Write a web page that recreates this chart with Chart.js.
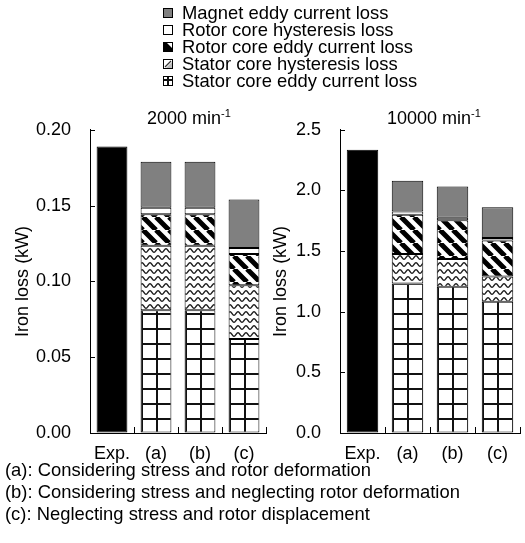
<!DOCTYPE html>
<html>
<head>
<meta charset="utf-8">
<script src="https://cdn.jsdelivr.net/npm/chart.js@4.4.1/dist/chart.umd.min.js"></script>
<style>
  body { margin: 0; background: #fff; font-family: "Liberation Sans", Arial, sans-serif; }
  #wrap { position: relative; width: 525px; height: 543px; overflow: hidden; }
  canvas.chart { position: absolute; top: 100px; }
  #legend { position: absolute; left: 163px; top: 4px; font-size: 18.4px; line-height: 17px; color: #000; }
  #legend div { display: flex; align-items: center; white-space: nowrap; }
  #legend canvas { margin-right: 9px; }
  .ttl { position: absolute; top: 108px; font-size: 18px; white-space: nowrap; }
  .ttl sup { font-size: 11px; vertical-align: 7px; line-height: 0; }
  #notes { position: absolute; left: 5px; top: 459px; font-size: 18.4px; line-height: 22px; white-space: nowrap; }
</style>
</head>
<body>
<div id="wrap">
  <div id="legend"></div>
  <canvas id="c2000" class="chart" width="268" height="370" style="left:0px"></canvas>
  <canvas id="c10000" class="chart" width="267" height="370" style="left:258px"></canvas>
  <div class="ttl" style="left:147px">2000 min<sup>-1</sup></div>
  <div class="ttl" style="left:387px">10000 min<sup>-1</sup></div>
  <div id="notes">
    <div>(a): Considering stress and rotor deformation</div>
    <div>(b): Considering stress and neglecting rotor deformation</div>
    <div>(c): Neglecting stress and rotor displacement</div>
  </div>
</div>
<script>
// categories
const categories = ['Exp.', '(a)', '(b)', '(c)'];
const lossNames = [
  'Magnet eddy current loss',
  'Rotor core hysteresis loss',
  'Rotor core eddy current loss',
  'Stator core hysteresis loss',
  'Stator core eddy current loss'
];

// 2000 min-1 (kW)
const exp2000 = [0.189, null, null, null];
const statorEddy2000 = [null, 0.081, 0.081, 0.062];
const statorHyst2000 = [null, 0.0425, 0.0425, 0.0355];
const rotorEddy2000 = [null, 0.0208, 0.0208, 0.0205];
const rotorHyst2000 = [null, 0.0042, 0.0042, 0.004];
const magnet2000 = [null, 0.0305, 0.0305, 0.032];

// 10000 min-1 (kW)
const exp10000 = [2.335, null, null, null];
const statorEddy10000 = [null, 1.232, 1.205, 1.083];
const statorHyst10000 = [null, 0.243, 0.23, 0.207];
const rotorEddy10000 = [null, 0.325, 0.319, 0.297];
const rotorHyst10000 = [null, 0.026, 0.021, 0.021];
const magnet10000 = [null, 0.254, 0.258, 0.253];

const barPct = 0.7;

// hatch patterns
function tile(w, h, draw) {
  const c = document.createElement('canvas');
  c.width = w; c.height = h;
  const g = c.getContext('2d');
  g.fillStyle = '#fff';
  g.fillRect(0, 0, w, h);
  draw(g, w, h);
  return c;
}
const gridTile = tile(15, 15, (g, w, h) => {
  g.fillStyle = '#111';
  g.fillRect(0, 0, 2, h);
  g.fillRect(0, 0, w, 2);
});
const waveTile = tile(8, 7, (g, w, h) => {
  g.strokeStyle = '#222';
  g.lineWidth = 1.4;
  g.beginPath();
  for (let x = -1; x <= w + 1; x += 0.5) {
    const y = 3.5 + 1.8 * Math.sin(2 * Math.PI * x / w);
    if (x === -1) g.moveTo(x, y); else g.lineTo(x, y);
  }
  g.stroke();
});
const stripeTile = tile(13, 13, (g, w, h) => {
  g.strokeStyle = '#000';
  g.lineWidth = 5;
  g.beginPath();
  [-w, 0, w].forEach(x0 => { g.moveTo(x0, 0); g.lineTo(x0 + w, h); });
  g.stroke();
});

// grid hatch lined up with each bar's left edge
function gridFill(context) {
  const chart = context.chart;
  const xs = chart.scales.x, ys = chart.scales.y;
  const p = chart.ctx.createPattern(gridTile, 'repeat');
  if (context.dataIndex === undefined || !xs || !xs.width) return p;
  const w = xs.width / categories.length * barPct;
  const left = xs.getPixelForValue(context.dataIndex) - w / 2;
  p.setTransform(new DOMMatrix().translate(Math.round(left), Math.round(ys.bottom)));
  return p;
}

// inward tick marks on both axes
const inwardTicks = {
  id: 'inwardTicks',
  afterDraw(chart) {
    const ctx = chart.ctx, xs = chart.scales.x, ys = chart.scales.y;
    ctx.save();
    ctx.strokeStyle = '#000';
    ctx.lineWidth = 1;
    ctx.beginPath();
    ys.ticks.forEach((t, i) => {
      const py = Math.round(ys.getPixelForTick(i)) + 0.5;
      ctx.moveTo(xs.left, py);
      ctx.lineTo(xs.left + 5, py);
    });
    const half = (xs.getPixelForTick(1) - xs.getPixelForTick(0)) / 2;
    for (let i = 0; i < categories.length; i++) {
      const px = Math.round(xs.getPixelForTick(i) + half) + 0.5;
      ctx.moveTo(px, ys.bottom);
      ctx.lineTo(px, ys.bottom - 6);
    }
    ctx.stroke();
    ctx.restore();
  }
};

const font = { family: '"Liberation Sans", Arial, sans-serif', size: 18 };

function makeChart(id, series, max, step, decimals, yWidth, padRight) {
  const ctx = document.getElementById(id).getContext('2d');
  const ds = (label, data, bg) => ({
    label, data, backgroundColor: bg, borderColor: '#000', borderWidth: 1,
    borderSkipped: false, barPercentage: barPct, categoryPercentage: 1
  });
  return new Chart(ctx, {
    type: 'bar',
    data: {
      labels: categories,
      datasets: [
        ds('Exp.', series.exp, '#000'),
        ds(lossNames[4], series.statorEddy, gridFill),
        ds(lossNames[3], series.statorHyst, ctx.createPattern(waveTile, 'repeat')),
        ds(lossNames[2], series.rotorEddy, ctx.createPattern(stripeTile, 'repeat')),
        ds(lossNames[1], series.rotorHyst, '#ffffff'),
        ds(lossNames[0], series.magnet, '#808080')
      ]
    },
    options: {
      responsive: false,
      animation: false,
      events: [],
      layout: { padding: { left: 8, top: 17, right: padRight, bottom: 0 } },
      plugins: { legend: { display: false }, tooltip: { enabled: false } },
      scales: {
        x: {
          stacked: true,
          grid: { display: true, drawOnChartArea: false, drawTicks: false },
          border: { display: true, color: '#000', width: 1 },
          ticks: { color: '#000', font, padding: 10, maxRotation: 0 },
          afterFit: s => { s.height = 37; }
        },
        y: {
          stacked: true,
          min: 0, max,
          grid: { display: true, drawOnChartArea: false, drawTicks: false },
          border: { display: true, color: '#000', width: 1 },
          ticks: { color: '#000', font, stepSize: step, padding: 19,
                   callback: v => Number(v).toFixed(decimals) },
          title: { display: true, text: 'Iron loss (kW)', color: '#000', font },
          afterFit: s => { s.width = yWidth; }
        }
      }
    },
    plugins: [inwardTicks]
  });
}

makeChart('c2000', {
  exp: exp2000, statorEddy: statorEddy2000, statorHyst: statorHyst2000,
  rotorEddy: rotorEddy2000, rotorHyst: rotorHyst2000, magnet: magnet2000
}, 0.2, 0.05, 2, 82, 2);

makeChart('c10000', {
  exp: exp10000, statorEddy: statorEddy10000, statorHyst: statorHyst10000,
  rotorEddy: rotorEddy10000, rotorHyst: rotorHyst10000, magnet: magnet10000
}, 2.5, 0.5, 1, 74, 5);

// legend swatches (small versions of the hatches)
const swatchDraw = [
  g => { g.fillStyle = '#808080'; g.fillRect(0, 0, 10, 10); },
  g => {},
  g => {
    g.fillStyle = '#000';
    g.beginPath();
    g.moveTo(0, 0); g.lineTo(0, 10); g.lineTo(10, 10); g.lineTo(10, 7); g.lineTo(3, 0);
    g.closePath(); g.fill();
  },
  g => {
    g.fillStyle = '#bbb';
    g.beginPath(); g.moveTo(10, 2); g.lineTo(10, 10); g.lineTo(2, 10); g.closePath(); g.fill();
    g.strokeStyle = '#333'; g.lineWidth = 1.2;
    g.beginPath(); g.moveTo(2, 8); g.lineTo(8, 2); g.stroke();
  },
  g => {
    g.fillStyle = '#111';
    g.fillRect(4, 0, 2, 10);
    g.fillRect(0, 3, 10, 2);
  }
];
const legend = document.getElementById('legend');
lossNames.forEach((name, i) => {
  const row = document.createElement('div');
  const sw = document.createElement('canvas');
  sw.width = 10; sw.height = 10;
  const g = sw.getContext('2d');
  g.fillStyle = '#fff';
  g.fillRect(0, 0, 10, 10);
  swatchDraw[i](g);
  g.strokeStyle = '#000';
  g.lineWidth = 1;
  g.strokeRect(0.5, 0.5, 9, 9);
  row.appendChild(sw);
  row.appendChild(document.createTextNode(name));
  legend.appendChild(row);
});
</script>
</body>
</html>
